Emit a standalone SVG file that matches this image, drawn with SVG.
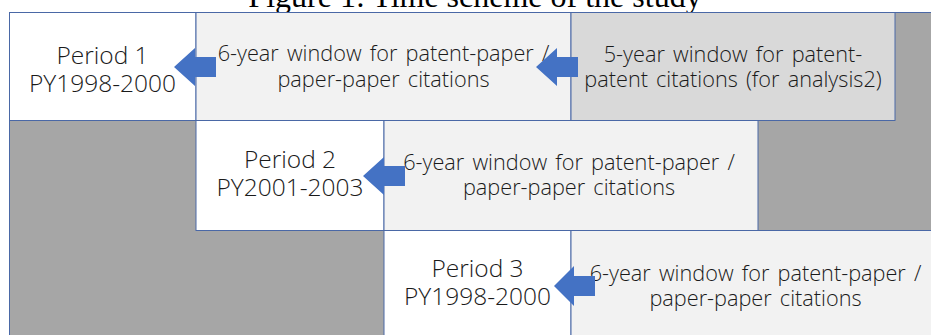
<svg xmlns="http://www.w3.org/2000/svg" width="931" height="335" viewBox="0 0 931 335">
<style>
.bg{fill:#a6a6a6;stroke:#4a68a6;stroke-width:1}
.box{stroke:#4a68a6;stroke-width:1}
.per{fill:#ffffff}
.win{fill:#f2f2f2}
.win5{fill:#d9d9d9}
.t{font-family:"Open Sans","Noto Sans",sans-serif;font-weight:300;fill:#1a1a1a;text-anchor:middle}
.tp{font-size:24.5px}
.tw{font-size:21.7px;word-spacing:2.5px}
.title{font-family:"Liberation Serif","Times New Roman",serif;font-size:32px;fill:#000;text-anchor:middle}
.arr{fill:#4472c4}
</style>
<rect x="0" y="0" width="931" height="335" fill="#ffffff"/>
<text class="title" x="475" y="6.5">Figure 1: Time scheme of the study</text>
<rect class="bg" x="9.5" y="12.5" width="930" height="330"/>
<g id="period1">
<rect class="box per" x="9.5" y="12.5" width="186.5" height="108"/>
<text class="t tp"><tspan x="102.5" y="64">Period 1</tspan><tspan x="102.5" y="92">PY1998-2000</tspan></text>
</g>
<g id="window1">
<rect class="box win" x="196" y="12.5" width="375" height="108"/>
<text class="t tw"><tspan x="383.5" y="61">6-year window for patent-paper /</tspan><tspan x="383.5" y="87">paper-paper citations</tspan></text>
</g>
<g id="window5">
<rect class="box win5" x="571" y="12.5" width="324" height="108"/>
<text class="t tw"><tspan x="733" y="61.5">5-year window for patent-</tspan><tspan x="733" y="86.5">patent citations (for analysis2)</tspan></text>
</g>
<g id="period2">
<rect class="box per" x="196" y="120.5" width="188" height="110"/>
<text class="t tp"><tspan x="290" y="168">Period 2</tspan><tspan x="290" y="196">PY2001-2003</tspan></text>
</g>
<g id="window2">
<rect class="box win" x="384" y="120.5" width="374" height="110"/>
<text class="t tw"><tspan x="569" y="170">6-year window for patent-paper /</tspan><tspan x="569" y="195">paper-paper citations</tspan></text>
</g>
<g id="period3">
<rect class="box per" x="384" y="230.5" width="187" height="112"/>
<text class="t tp"><tspan x="477.5" y="277">Period 3</tspan><tspan x="477.5" y="305">PY1998-2000</tspan></text>
</g>
<g id="window3">
<rect class="box win" x="571" y="230.5" width="370" height="112"/>
<text class="t tw"><tspan x="755.5" y="281">6-year window for patent-paper /</tspan><tspan x="755.5" y="306">paper-paper citations</tspan></text>
</g>
<g id="connectors">
<polygon class="arr" points="174,67 195,48 195,57 216,57 216,77 195,77 195,86"/>
<polygon class="arr" points="536,67 557,48 557,57 578,57 578,77 557,77 557,86"/>
<polygon class="arr" points="363,176 384,157 384,166 405,166 405,186 384,186 384,195"/>
<polygon class="arr" points="554,286 574,266 574,276 595,276 595,296 574,296 574,306"/>
</g>
</svg>
